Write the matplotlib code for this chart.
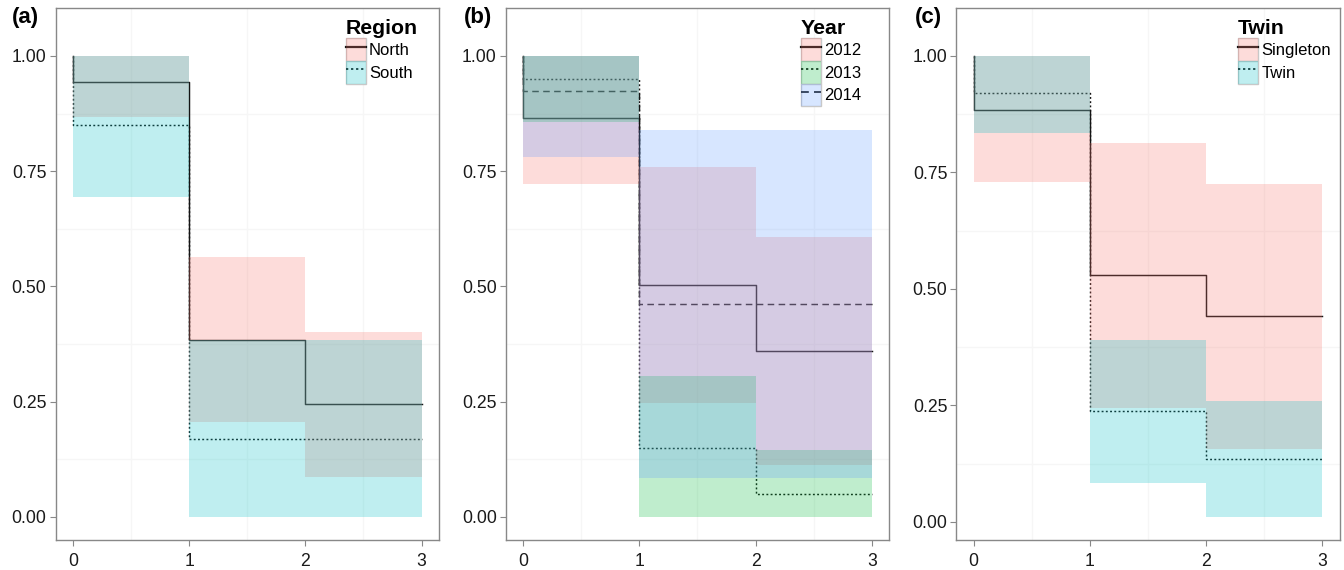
import matplotlib
matplotlib.use('Agg')
import matplotlib.pyplot as plt
from matplotlib.patches import Patch
from matplotlib.lines import Line2D
from matplotlib.legend_handler import HandlerTuple

plt.rcParams['font.family'] = ['Liberation Sans', 'DejaVu Sans']

# time points (intervals 0-1, 1-2, 2-3)
times = [0, 1, 2, 3]

# (a) Region
region_names = ['North', 'South']
region_surv = [[0.944, 0.384, 0.245], [0.851, 0.170, 0.170]]
region_lo = [[0.868, 0.207, 0.087], [0.695, 0.0, 0.0]]
region_hi = [[1.0, 0.563, 0.402], [1.0, 0.384, 0.383]]

# (b) Year
year_names = ['2012', '2013', '2014']
year_surv = [[0.865, 0.504, 0.360], [0.951, 0.150, 0.050], [0.925, 0.461, 0.461]]
year_lo = [[0.722, 0.248, 0.112], [0.856, 0.0, 0.0], [0.780, 0.085, 0.085]]
year_hi = [[1.0, 0.760, 0.608], [1.0, 0.305, 0.145], [1.0, 0.839, 0.839]]

# (c) Twin
twin_names = ['Singleton', 'Twin']
twin_surv = [[0.883, 0.529, 0.441], [0.921, 0.238, 0.135]]
twin_lo = [[0.729, 0.244, 0.157], [0.835, 0.084, 0.011]]
twin_hi = [[1.0, 0.813, 0.726], [1.0, 0.391, 0.259]]

yticks = [0.0, 0.25, 0.5, 0.75, 1.0]
ytick_labels = ['0.00', '0.25', '0.50', '0.75', '1.00']

pal2 = ['#F8766D', '#00BFC4']
pal3 = ['#F8766D', '#00BA38', '#619CFF']
styles = ['-', (0, (1.3, 1.6)), (0, (4.5, 3.0))]
line_col = '#141414'
alpha = 0.25

fig = plt.figure(figsize=(13.44, 5.70), dpi=100)
W, H = 1344, 570
panels = [
    (55.5, 'Region', region_names, region_surv, region_lo, region_hi, pal2, (-0.05, 1.104), 0.757, '(a)', 12),
    (505.7, 'Year', year_names, year_surv, year_lo, year_hi, pal3, (-0.05, 1.104), 0.770, '(b)', 464),
    (956.3, 'Twin', twin_names, twin_surv, twin_lo, twin_hi, pal2, (-0.039, 1.103), 0.735, '(c)', 915),
]

for left, title, names, surv, lo, hi, pal, ylim, legx, tag, tagx in panels:
    ax = fig.add_axes([left / W, 1 - 540 / H, 383.5 / W, 532 / H])
    handles = []
    for i, name in enumerate(names):
        st = [0, 0] + times[1:]
        sv = [1.0] + surv[i] + [surv[i][-1]]
        ax.step(st, sv, where='post', color=line_col, lw=1.05,
                linestyle=styles[i], zorder=2)
        ax.fill_between(times, lo[i] + [lo[i][-1]], hi[i] + [hi[i][-1]],
                        step='post', color=pal[i], alpha=alpha, lw=0, zorder=3)
        bg = Patch(facecolor='white', edgecolor='#c8c8c8', lw=1.0)
        ln = Line2D([], [], color=line_col, lw=1.6 if i == 0 else 1.25,
                    linestyle=styles[i])
        fl = Patch(facecolor=pal[i], alpha=alpha, lw=0)
        handles.append((bg, ln, fl))

    ax.set_xlim(-0.15, 3.15)
    ax.set_ylim(*ylim)
    ax.set_xticks(times)
    ax.set_yticks(yticks)
    ax.set_yticklabels(ytick_labels)
    ax.set_xticks([0.5, 1.5, 2.5], minor=True)
    ax.set_yticks([0.125, 0.375, 0.625, 0.875], minor=True)
    ax.grid(which='minor', color='#f6f6f6', lw=1.0, zorder=0)
    ax.tick_params(which='minor', length=0)
    ax.tick_params(which='major', direction='out', length=4, width=0.8,
                   color='#888888', labelsize=12.7, labelcolor='#1a1a1a', pad=2.5)
    ax.tick_params(axis='x', pad=5)
    for sp in ax.spines.values():
        sp.set_color('#888888')
        sp.set_linewidth(1.0)
    ax.set_axisbelow(True)

    leg = ax.legend(handles, names, handler_map={tuple: HandlerTuple(ndivide=1, pad=0)},
                    loc='upper left', bbox_to_anchor=(legx, 0.979), frameon=False,
                    borderpad=0, borderaxespad=0, handlelength=1.2, handleheight=1.72,
                    handletextpad=0.18, labelspacing=0.0, fontsize=12,
                    title=title, title_fontproperties={'weight': 'bold', 'size': 15.3},
                    alignment='left')
    leg.set_zorder(5)

    fig.text(tagx / W, 1 - 18 / H, tag, fontsize=16, fontweight='bold',
             ha='left', va='center')

fig.savefig('out.png', dpi=100)
